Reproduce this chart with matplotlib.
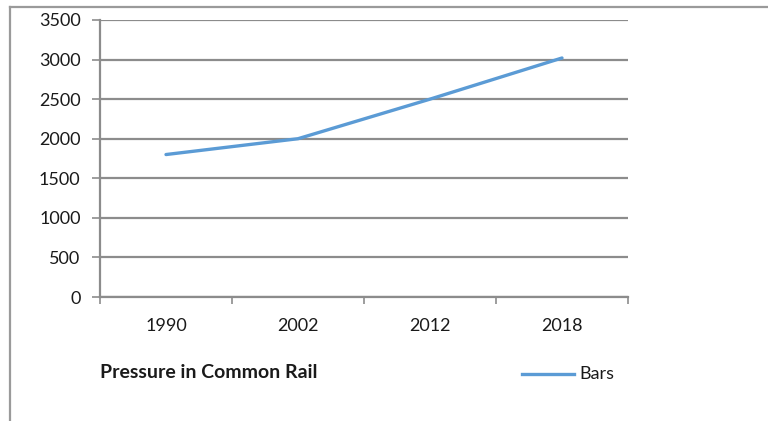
import matplotlib
matplotlib.use("Agg")
import matplotlib.pyplot as plt
from matplotlib.lines import Line2D

# ---------------- Data ---------------- #
years = ["1990", "2002", "2012", "2018"]
pressure = [1800, 2000, 2500, 3020]
yticks = [0, 500, 1000, 1500, 2000, 2500, 3000, 3500]

plt.rcParams['font.family'] = ['Lato', 'DejaVu Sans']
FS = 13

fig = plt.figure(figsize=(7.68, 4.21), dpi=100)
ax = fig.add_axes([100 / 768, 1 - 297 / 421, 528 / 768, 277 / 421])

grid_color = '#8c8c8c'
x = list(range(len(years)))
ax.plot(x, pressure, color='#5b9bd5', linewidth=2.4, solid_capstyle='round')

ax.set_xlim(-0.5, len(years) - 0.5)
ax.set_ylim(0, 3500)
ax.set_yticks(yticks)
ax.set_yticklabels([str(v) for v in yticks], fontsize=FS, color='#1a1a1a')
ax.yaxis.grid(True, color=grid_color, linewidth=1.6)
ax.set_axisbelow(True)

ax.set_xticks(x)
ax.set_xticklabels(years, fontsize=FS, color='#1a1a1a')
ax.set_xticks([i - 0.5 for i in range(len(years) + 1)], minor=True)
ax.tick_params(axis='x', which='major', length=0, pad=15)
ax.tick_params(axis='x', which='minor', length=5, color=grid_color, width=1.2)
ax.tick_params(axis='y', length=6, color=grid_color, width=1.2, pad=8)

for s in ['top', 'right']:
    ax.spines[s].set_visible(False)
for s in ['left', 'bottom']:
    ax.spines[s].set_color(grid_color)
    ax.spines[s].set_linewidth(1.6)

# outer chart border (cropped on right/bottom)
fig.add_artist(Line2D([10 / 768, 10 / 768], [0, 1 - 7 / 421], color='#9a9a9a', linewidth=1.6,
                      transform=fig.transFigure))
fig.add_artist(Line2D([10 / 768, 1], [1 - 7 / 421, 1 - 7 / 421], color='#9a9a9a', linewidth=1.6,
                      transform=fig.transFigure))

fig.text(100 / 768, 1 - 372 / 421, "Pressure in Common Rail", fontsize=14, fontweight='bold',
         color='#1a1a1a', va='center', ha='left')

# legend
fig.add_artist(Line2D([522 / 768, 574 / 768], [1 - 374 / 421, 1 - 374 / 421], color='#5b9bd5',
                      linewidth=2.4, transform=fig.transFigure))
fig.text(579 / 768, 1 - 374 / 421, "Bars", fontsize=FS, color='#1a1a1a', va='center', ha='left')

fig.savefig("out.png", dpi=100, facecolor='white')
